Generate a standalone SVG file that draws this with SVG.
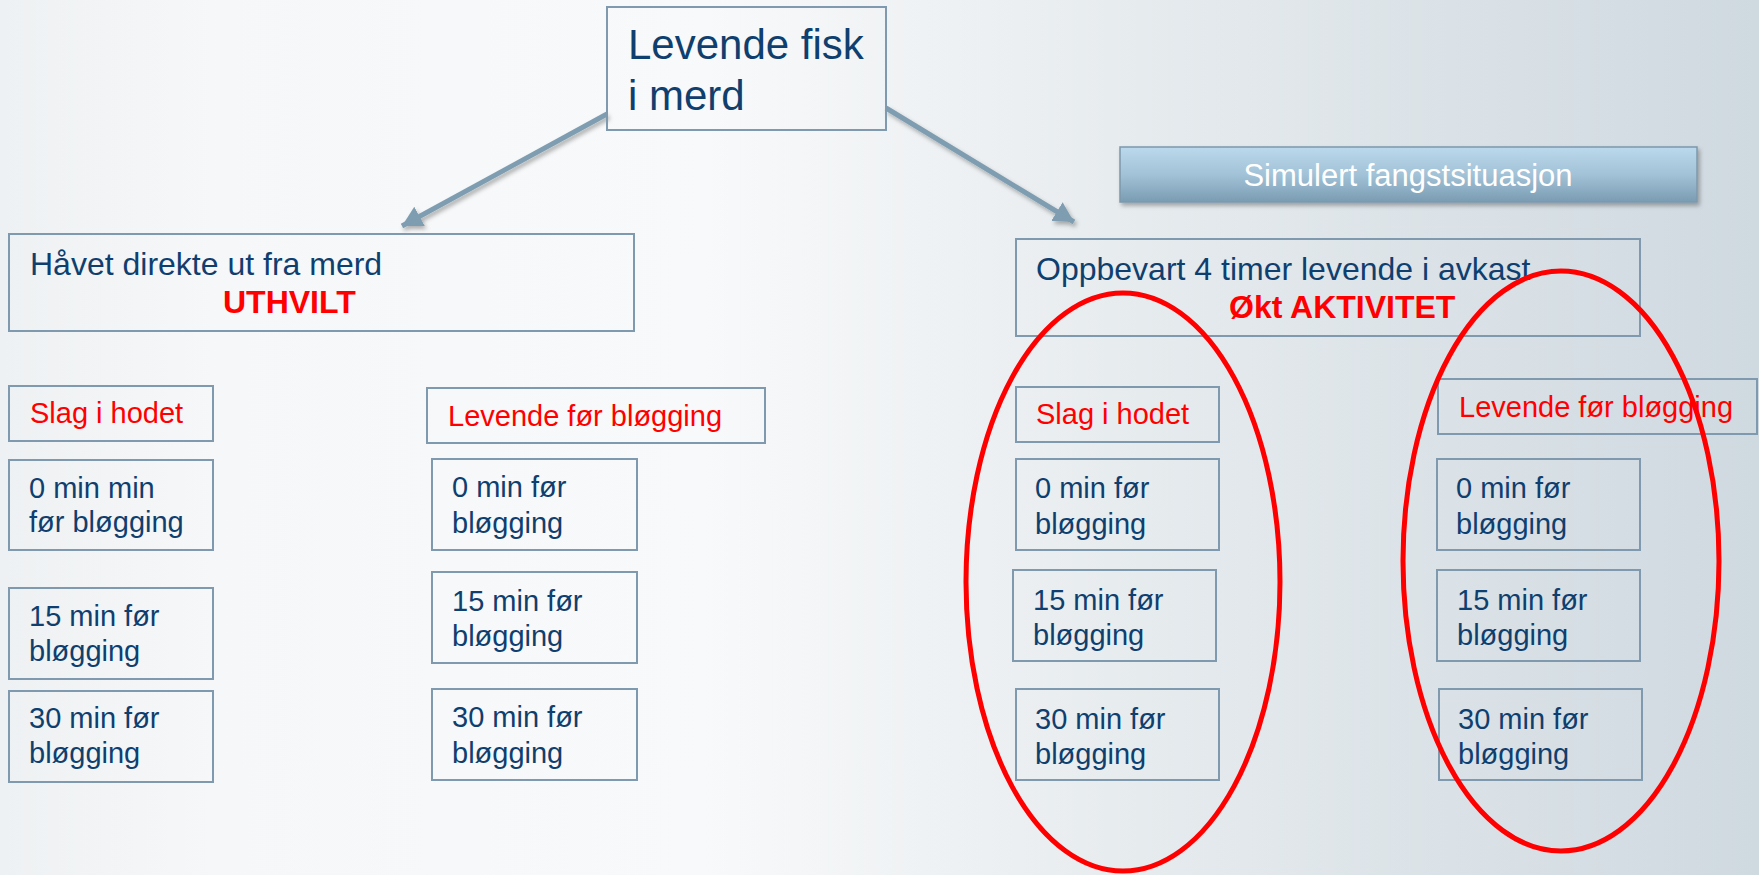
<svg xmlns="http://www.w3.org/2000/svg" width="1759" height="875" viewBox="0 0 1759 875">
<defs>
<linearGradient id="bg" x1="0" y1="0" x2="1" y2="0">
<stop offset="0" stop-color="#eef1f3"/>
<stop offset="0.12" stop-color="#f6f7f8"/>
<stop offset="0.4" stop-color="#f8f9fa"/>
<stop offset="0.65" stop-color="#e6ebee"/>
<stop offset="1" stop-color="#cfd9e0"/>
</linearGradient>
<linearGradient id="simg" x1="0" y1="0" x2="0" y2="1">
<stop offset="0" stop-color="#bcd9ec"/>
<stop offset="0.5" stop-color="#a2c2d7"/>
<stop offset="1" stop-color="#7a9cb2"/>
</linearGradient>
<filter id="sh" x="-10%" y="-10%" width="130%" height="140%">
<feDropShadow dx="2" dy="3" stdDeviation="2" flood-color="#000" flood-opacity="0.3"/>
</filter>
<marker id="ah" markerWidth="5" markerHeight="5" refX="4" refY="2.2" orient="auto" markerUnits="strokeWidth">
<path d="M0,0 L4,2.2 L0,4.4 Z" fill="#7f9db1"/>
</marker>
<style>
.box{fill:none;stroke:#7f9aae;stroke-width:2}
.t{font-family:"Liberation Sans",Arial,sans-serif;font-size:29px;fill:#0f3f6f}
.r{font-family:"Liberation Sans",Arial,sans-serif;font-size:29px;fill:#ff0000}
.big{font-family:"Liberation Sans",Arial,sans-serif;font-size:32px;fill:#0f3f6f}
.bold{font-family:"Liberation Sans",Arial,sans-serif;font-size:32px;font-weight:bold;fill:#ff0000}
.conn{stroke:#7f9db1;stroke-width:5;fill:none;marker-end:url(#ah)}
.ell{fill:none;stroke:#ff0000;stroke-width:5}
</style>
</defs>
<rect x="0" y="0" width="1759" height="875" fill="url(#bg)"/>

<g id="connectors" filter="url(#sh)">
<line class="conn" x1="607" y1="114" x2="402" y2="226"/>
<line class="conn" x1="886" y1="108" x2="1074" y2="222"/>
</g>

<g id="root">
<rect class="box" x="607" y="7" width="279" height="123"/>
<text class="big" style="font-size:42px" x="628" y="59">Levende fisk</text>
<text class="big" style="font-size:42px" x="628" y="110">i merd</text>
</g>

<g id="sim">
<rect x="1120" y="147" width="577" height="55" fill="url(#simg)" stroke="#7c98ac" stroke-width="1.5" filter="url(#sh)"/>
<text x="1408" y="186" text-anchor="middle" style="font-family:'Liberation Sans',Arial,sans-serif;font-size:31px;fill:#ffffff">Simulert fangstsituasjon</text>
</g>

<g id="haavet">
<rect class="box" x="9" y="234" width="625" height="97"/>
<text class="big" x="30" y="275">Håvet direkte ut fra merd</text>
<text class="bold" x="223" y="313">UTHVILT</text>
</g>

<g id="oppbevart">
<rect class="box" x="1016" y="239" width="624" height="97"/>
<text class="big" x="1036" y="280">Oppbevart 4 timer levende i avkast</text>
<text class="bold" x="1229" y="318">Økt AKTIVITET</text>
</g>

<g id="l-slag">
<rect class="box" x="9" y="386" width="204" height="55"/>
<text class="r" x="30" y="423">Slag i hodet</text>
</g>
<g id="l-slag-0">
<rect class="box" x="9" y="460" width="204" height="90"/>
<text class="t" x="29" y="498">0 min min</text>
<text class="t" x="29" y="532">før bløgging</text>
</g>
<g id="l-slag-15">
<rect class="box" x="9" y="588" width="204" height="91"/>
<text class="t" x="29" y="626">15 min før</text>
<text class="t" x="29" y="661">bløgging</text>
</g>
<g id="l-slag-30">
<rect class="box" x="9" y="691" width="204" height="91"/>
<text class="t" x="29" y="728">30 min før</text>
<text class="t" x="29" y="763">bløgging</text>
</g>

<g id="l-lev">
<rect class="box" x="427" y="388" width="338" height="55"/>
<text class="r" x="448" y="426">Levende før bløgging</text>
</g>
<g id="l-lev-0">
<rect class="box" x="432" y="459" width="205" height="91"/>
<text class="t" x="452" y="497">0 min før</text>
<text class="t" x="452" y="533">bløgging</text>
</g>
<g id="l-lev-15">
<rect class="box" x="432" y="572" width="205" height="91"/>
<text class="t" x="452" y="611">15 min før</text>
<text class="t" x="452" y="646">bløgging</text>
</g>
<g id="l-lev-30">
<rect class="box" x="432" y="689" width="205" height="91"/>
<text class="t" x="452" y="727">30 min før</text>
<text class="t" x="452" y="763">bløgging</text>
</g>

<g id="r-slag">
<rect class="box" x="1016" y="387" width="203" height="55"/>
<text class="r" x="1036" y="424">Slag i hodet</text>
</g>
<g id="r-slag-0">
<rect class="box" x="1016" y="459" width="203" height="91"/>
<text class="t" x="1035" y="498">0 min før</text>
<text class="t" x="1035" y="534">bløgging</text>
</g>
<g id="r-slag-15">
<rect class="box" x="1013" y="570" width="203" height="91"/>
<text class="t" x="1033" y="610">15 min før</text>
<text class="t" x="1033" y="645">bløgging</text>
</g>
<g id="r-slag-30">
<rect class="box" x="1016" y="689" width="203" height="91"/>
<text class="t" x="1035" y="729">30 min før</text>
<text class="t" x="1035" y="764">bløgging</text>
</g>

<g id="r-lev">
<rect class="box" x="1438" y="379" width="319" height="55"/>
<text class="r" x="1459" y="417">Levende før bløgging</text>
</g>
<g id="r-lev-0">
<rect class="box" x="1437" y="459" width="203" height="91"/>
<text class="t" x="1456" y="498">0 min før</text>
<text class="t" x="1456" y="534">bløgging</text>
</g>
<g id="r-lev-15">
<rect class="box" x="1437" y="570" width="203" height="91"/>
<text class="t" x="1457" y="610">15 min før</text>
<text class="t" x="1457" y="645">bløgging</text>
</g>
<g id="r-lev-30">
<rect class="box" x="1439" y="689" width="203" height="91"/>
<text class="t" x="1458" y="729">30 min før</text>
<text class="t" x="1458" y="764">bløgging</text>
</g>

<g id="highlights">
<ellipse class="ell" cx="1123" cy="582" rx="157" ry="289"/>
<ellipse class="ell" cx="1561" cy="561" rx="158" ry="290"/>
</g>
</svg>
